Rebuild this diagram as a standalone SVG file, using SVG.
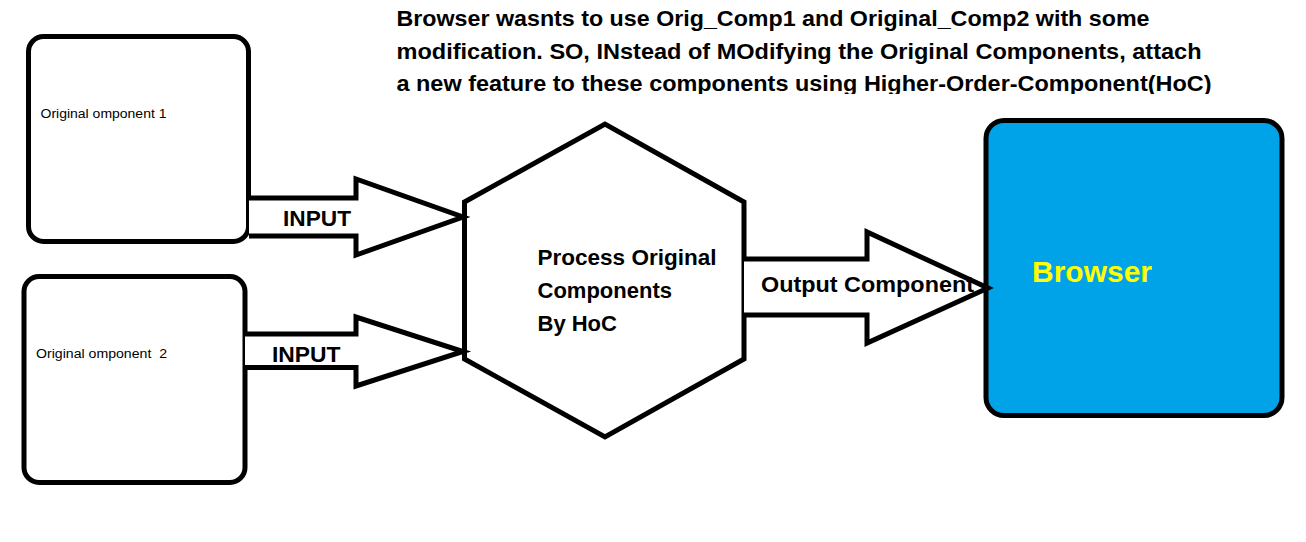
<svg xmlns="http://www.w3.org/2000/svg" width="1306" height="542" viewBox="0 0 1306 542">
<style>
.box{fill:#fff;stroke:#000;stroke-width:5}
.arrow{fill:#fff;stroke:#000;stroke-width:5;stroke-linejoin:miter;stroke-miterlimit:10}
.t{font-family:"Liberation Sans",Arial,sans-serif;fill:#000}
.b{font-weight:bold}
.small{font-size:12.5px}
.mid{font-size:22px}
</style>
<defs>
<clipPath id="headclip"><rect x="0" y="0" width="1306" height="94"/></clipPath>
</defs>
<rect x="0" y="0" width="1306" height="542" fill="#fff"/>
<g id="heading" clip-path="url(#headclip)">
<text class="t b mid" x="396.5" y="26" textLength="753" lengthAdjust="spacingAndGlyphs">Browser wasnts to use Orig_Comp1 and Original_Comp2 with some</text>
<text class="t b mid" x="396.5" y="58.5" textLength="805" lengthAdjust="spacingAndGlyphs">modification. SO, INstead of MOdifying the Original Components, attach</text>
<text class="t b mid" x="396.5" y="91" textLength="815" lengthAdjust="spacingAndGlyphs">a new feature to these components using Higher-Order-Component(HoC)</text>
</g>
<g id="orig1">
<rect class="box" x="28.5" y="36.5" width="220" height="205" rx="15" ry="15"/>
<text class="t small" x="40.5" y="117.5" textLength="126" lengthAdjust="spacingAndGlyphs">Original omponent 1</text>
</g>
<g id="orig2">
<rect class="box" x="24" y="276.5" width="221" height="206" rx="15" ry="15"/>
<text class="t small" x="36" y="357.5" textLength="131" lengthAdjust="spacingAndGlyphs" xml:space="preserve">Original omponent  2</text>
</g>
<g id="hoc">
<polygon class="box" points="464.5,202 605,124 744,202 744,359 605,437 464.5,359"/>
<text class="t b mid" x="537.5" y="265" textLength="179" lengthAdjust="spacingAndGlyphs">Process Original</text>
<text class="t b mid" x="537.5" y="297.5">Components</text>
<text class="t b mid" x="537.5" y="330.5">By HoC</text>
</g>
<g id="browser">
<rect x="986" y="120.5" width="296" height="295" rx="18" ry="18" fill="#00A2E8" stroke="#000" stroke-width="5"/>
<text class="t b" x="1032" y="282" font-size="29" fill="#FFFF00" style="fill:#FFFF00" textLength="120" lengthAdjust="spacingAndGlyphs">Browser</text>
</g>
<g id="connectors">
<polyline class="arrow" points="249,198 356,198 356,179 463,217 356,255 356,236 249,236"/>
<text class="t b mid" x="283" y="226" textLength="68" lengthAdjust="spacingAndGlyphs">INPUT</text>
<polyline class="arrow" points="245,334 356,334 356,317 463,351.5 356,386 356,367.5 245,367.5"/>
<text class="t b mid" x="272" y="362" textLength="68.5" lengthAdjust="spacingAndGlyphs">INPUT</text>
<polyline class="arrow" points="744,259 867,259 867,232 988,288 867,343 867,315 744,315"/>
<text class="t b mid" x="761" y="292" textLength="213" lengthAdjust="spacingAndGlyphs">Output Component</text>
</g>
</svg>
